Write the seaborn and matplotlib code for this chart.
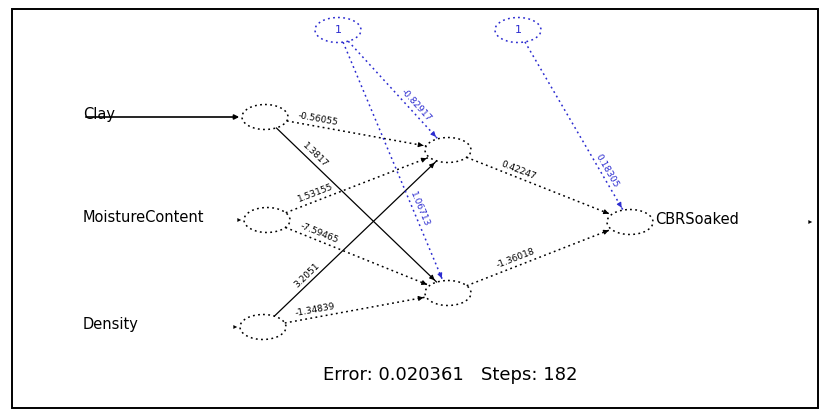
import numpy as np
import matplotlib
matplotlib.use("Agg")
import matplotlib.pyplot as plt
from matplotlib.patches import Ellipse, Rectangle
import seaborn as sns
import pandas as pd

sns.set_theme(style="white")
plt.rcParams["font.family"] = ["DejaVu Sans"]

# network description
inputs = ["Clay", "MoistureContent", "Density"]
hidden = ["H1", "H2"]
output = ["CBRSoaked"]

# weights: input -> hidden (rows: inputs, cols: hidden)
w_in_hidden = [[-0.56055, 1.38170],
               [1.53155, -7.59465],
               [3.20510, -1.34839]]
# bias -> hidden
w_bias_hidden = [-0.82917, 1.06713]
# hidden -> output
w_hidden_out = [0.42247, -1.36018]
# bias -> output
w_bias_out = [0.18305]

error_value = 0.020361
steps = 182

# layout (pixel coordinates on an 831x416 canvas)
in_pos = [(265, 117), (267, 220), (263, 327)]
hid_pos = [(448, 150), (448, 293)]
out_pos = [(630, 222)]
bias_pos = [(338, 30), (518, 30)]
NW, NH = 46, 25

fig = plt.figure(figsize=(8.31, 4.16), dpi=100)
ax = fig.add_axes([0, 0, 1, 1])
ax.set_xlim(0, 831)
ax.set_ylim(416, 0)
ax.axis("off")

ax.add_patch(Rectangle((12, 9), 806, 399, fill=False, lw=1.4, ec="black"))

dot = (0, (1.2, 2.2))


def edge_pts(p, q):
    (x1, y1), (x2, y2) = p, q
    d = np.array([x2 - x1, y2 - y1], float)
    d /= np.hypot(*d)

    def off(dv):
        # distance from ellipse center to its boundary in direction dv
        a, b = NW / 2, NH / 2
        return 1.0 / np.sqrt((dv[0] / a) ** 2 + (dv[1] / b) ** 2)

    s = np.array([x1, y1]) + d * off(d)
    e = np.array([x2, y2]) - d * off(d)
    return s, e


def draw_edge(p, q, w, frac, color, ls=dot, lw=1.1):
    s, e = edge_pts(p, q)
    seg = pd.DataFrame({"x": [s[0], e[0]], "y": [s[1], e[1]]})
    sns.lineplot(data=seg, x="x", y="y", ax=ax, color=color, lw=lw,
                 linestyle=ls, sort=False, estimator=None)
    ax.annotate("", xy=e, xytext=e - (e - s) / np.hypot(*(e - s)) * 6,
                arrowprops=dict(arrowstyle="-|>", color=color, lw=0.8,
                                mutation_scale=7))
    ang = np.degrees(np.arctan2(-(e[1] - s[1]), e[0] - s[0]))
    lx, ly = s + (e - s) * frac
    ax.text(lx, ly - 3, f"{w:g}", rotation=ang, rotation_mode="anchor",
            ha="center", va="bottom", fontsize=6.5, color=color)


# input -> hidden
for i, p in enumerate(in_pos):
    for j, q in enumerate(hidden):
        solid = (i == 0 and j == 1) or (i == 2 and j == 0)
        draw_edge(p, hid_pos[j], w_in_hidden[i][j], 0.22, "black",
                  ls="-" if solid else dot, lw=0.9 if solid else 1.1)

# hidden -> output
for j, q in enumerate(hid_pos):
    draw_edge(q, out_pos[0], w_hidden_out[j], 0.35, "black")

# bias edges
for j, q in enumerate(hid_pos):
    draw_edge(bias_pos[0], q, w_bias_hidden[j], 0.72, "#2b2bd0")
draw_edge(bias_pos[1], out_pos[0], w_bias_out[0], 0.8, "#2b2bd0")

# nodes
for p in in_pos + hid_pos + out_pos:
    ax.add_patch(Ellipse(p, NW, NH, fill=False, ec="black", lw=1.1, ls=dot))
for p in bias_pos:
    ax.add_patch(Ellipse(p, NW, NH, fill=False, ec="#2b2bd0", lw=1.1, ls=dot))
    ax.text(p[0], p[1], "1", ha="center", va="center", fontsize=8,
            color="#2b2bd0")

# input arrows and labels
for name, p in zip(inputs, in_pos):
    t = ax.text(83, p[1] - 3, name, ha="left", va="center", fontsize=10.5,
                color="black")
    solid = name == "Clay"
    ax.annotate("", xy=(p[0] - NW / 2, p[1]), xytext=(83, p[1]),
                arrowprops=dict(arrowstyle="-|>", color="black",
                                lw=1.2 if solid else 0.0,
                                mutation_scale=7))

# output arrow and label
op = out_pos[0]
ax.annotate("", xy=(815, op[1]), xytext=(op[0] + NW / 2, op[1]),
            arrowprops=dict(arrowstyle="-|>", color="black", lw=0.0,
                            mutation_scale=7))
ax.text(op[0] + NW / 2 + 2, op[1] - 3, output[0], ha="left", va="center",
        fontsize=10.5, color="black")

ax.text(450, 375, f"Error: {error_value:g}   Steps: {steps}", ha="center",
        va="center", fontsize=13, color="black")

fig.savefig("out.png", dpi=100)
